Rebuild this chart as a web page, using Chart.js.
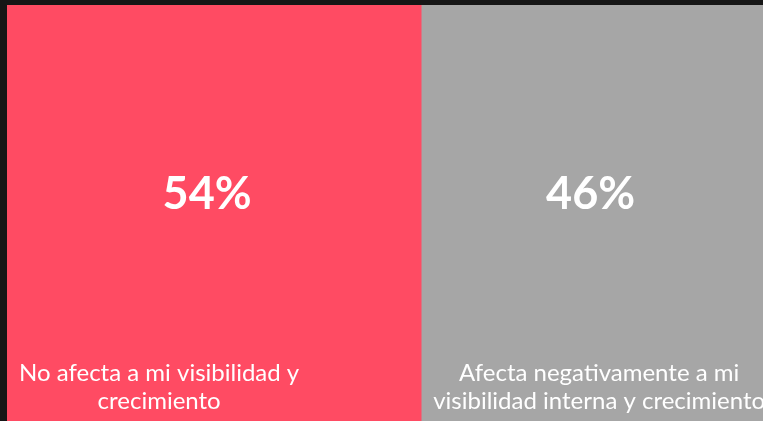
<!DOCTYPE html>
<html>
<head>
<meta charset="utf-8">
<script src="https://cdn.jsdelivr.net/npm/chart.js@4"></script>
<style>
  html, body { margin: 0; padding: 0; background: #161616; overflow: hidden; }
  #wrap { position: absolute; left: 7px; top: 5px; width: 767px; height: 416px; }
</style>
</head>
<body>
<div id="wrap"><canvas id="splitChart"></canvas></div>
<script>
// Datos del gráfico
const categorias = ['Respuesta'];
const valores = [54, 46];
const etiquetas = [
    ['No afecta a mi visibilidad y', 'crecimiento'],
    ['Afecta negativamente a mi', 'visibilidad interna y crecimiento']
];
const colores = ['#FF4B63', '#A6A6A6'];

// Plugin para dibujar porcentajes y textos dentro de cada bloque
const textosPlugin = {
    id: 'textos',
    afterDatasetsDraw(chart) {
        const ctx = chart.ctx;
        chart.data.datasets.forEach(function(ds, i) {
            const bar = chart.getDatasetMeta(i).data[0];
            const left = Math.min(bar.base, bar.x);
            const right = Math.max(bar.base, bar.x);
            const bottom = bar.y + bar.height / 2;
            ctx.save();
            ctx.fillStyle = '#ffffff';
            ctx.textAlign = 'center';
            ctx.textBaseline = 'middle';
            ctx.font = 'bold 45px Lato, sans-serif';
            ctx.fillText(ds.data[0] + '%', (left + right) / 2 - 7, bar.y - 19);

            // texto de la etiqueta: caja alineada a la izquierda, líneas centradas
            ctx.font = '24px Lato, sans-serif';
            ctx.textBaseline = 'alphabetic';
            const lineas = etiquetas[i];
            let maxW = 0;
            lineas.forEach(function(l) { maxW = Math.max(maxW, ctx.measureText(l).width); });
            const cx = left + 12 + maxW / 2;
            lineas.forEach(function(l, j) {
                ctx.fillText(l, cx, bottom - 40 + j * 28);
            });
            ctx.restore();
        });
    }
};

const ctx = document.getElementById('splitChart').getContext('2d');
new Chart(ctx, {
    type: 'bar',
    data: {
        labels: categorias,
        datasets: valores.map(function(v, i) {
            return {
                label: etiquetas[i].join(' '),
                data: [v],
                backgroundColor: colores[i],
                borderWidth: 0,
                barPercentage: 1,
                categoryPercentage: 1
            };
        })
    },
    options: {
        indexAxis: 'y',
        responsive: true,
        maintainAspectRatio: false,
        animation: false,
        layout: { padding: 0 },
        scales: {
            x: { stacked: true, min: 0, max: 100, display: false },
            y: { stacked: true, display: false }
        },
        plugins: {
            legend: { display: false },
            tooltip: { enabled: false }
        }
    },
    plugins: [textosPlugin]
});
</script>
</body>
</html>
